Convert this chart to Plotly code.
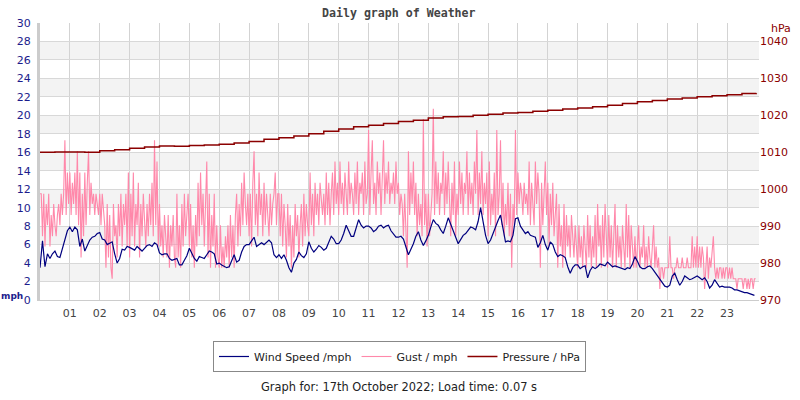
import plotly.graph_objects as go

# ---------------- data ----------------
# wind speed (mph), 5-minute samples starting 00:00 (one row per hour)
wind_mph = [
    3.5, 6.4, 3.6, 5.0, 4.5, 5.0, 5.3, 4.7, 4.6, 5.6, 6.3, 7.5,
    7.9, 7.4, 7.9, 7.6, 5.8, 6.6, 5.3, 6.0, 6.5, 6.8, 6.9, 7.2,
    7.3, 6.6, 6.5, 6.0, 6.2, 6.3, 5.0, 4.0, 4.5, 5.5, 5.4, 5.8,
    5.7, 5.5, 5.4, 5.8, 5.5, 5.3, 5.6, 5.9, 6.0, 5.8, 6.2, 6.0,
    5.1, 4.9, 5.0, 5.0, 4.5, 4.3, 4.4, 4.5, 3.8, 3.8, 4.3, 4.8,
    5.6, 5.0, 4.5, 4.2, 4.7, 4.6, 4.5, 4.9, 5.3, 5.2, 5.0, 3.9,
    4.0, 3.8, 3.6, 3.5, 3.6, 4.3, 4.9, 4.1, 4.3, 5.2, 5.8, 6.0,
    6.0, 6.4, 6.8, 5.8, 6.0, 6.2, 6.0, 6.3, 6.5, 6.2, 4.9, 4.6,
    4.9, 4.5, 4.9, 4.3, 3.5, 3.0, 4.0, 4.4, 5.2, 4.8, 4.6, 5.0,
    6.3, 5.6, 5.2, 5.5, 5.9, 5.7, 5.4, 5.6, 6.2, 6.9, 6.6, 6.1,
    6.1, 6.5, 7.2, 8.1, 7.5, 6.9, 6.9, 7.8, 8.7, 8.1, 7.8, 8.0,
    8.0, 7.8, 7.4, 7.6, 8.0, 8.1, 7.8, 8.0, 8.1, 7.5, 7.2, 6.8,
    6.8, 6.9, 6.6, 5.8, 4.9, 5.5, 6.1, 6.9, 7.4, 6.5, 5.9, 6.4,
    7.0, 7.9, 8.7, 8.3, 8.1, 7.6, 7.2, 8.0, 8.9, 8.2, 7.4, 6.8,
    6.1, 6.5, 7.0, 7.2, 7.5, 7.9, 7.8, 7.6, 8.5, 10.0, 8.5, 7.0,
    6.1, 6.5, 7.2, 8.0, 8.6, 9.2, 7.5, 6.3, 6.4, 6.3, 7.0, 8.8,
    8.9, 8.0, 7.6, 7.2, 7.4, 7.0, 6.9, 6.8, 5.7, 6.2, 7.0, 6.0,
    5.4, 6.3, 6.0, 5.2, 4.7, 4.9, 4.8, 4.6, 3.6, 2.9, 3.5, 3.8,
    3.8, 3.4, 3.6, 3.7, 2.4, 3.2, 3.6, 3.4, 3.6, 3.9, 3.8, 3.7,
    4.1, 3.8, 3.6, 3.7, 3.6, 3.5, 3.4, 3.3, 3.5, 3.4, 3.9, 4.7,
    4.2, 3.6, 3.4, 3.4, 3.6, 3.7, 3.4, 3.0, 2.6, 2.2, 1.8, 1.5,
    1.4, 1.6, 2.6, 2.9, 2.2, 1.6, 2.0, 2.6, 2.4, 2.2, 2.3, 2.5,
    2.6, 2.4, 2.2, 2.4, 2.0, 1.3, 1.6, 2.2, 1.8, 1.4, 1.5, 1.4,
    1.4, 1.4, 1.3, 1.1, 1.1, 1.0, 0.9, 0.8, 0.8, 0.7, 0.6, 0.5,
]
wind_step_min = 5

# gust (mph), 2.5-minute samples starting 00:00 (one row per hour)
gust_mph = [
    11.5, 11.5, 6.9, 11.5, 5.8, 10.4, 8.1, 11.5, 5.8, 9.2, 6.9, 10.4, 8.1, 6.9, 9.2, 10.4, 8.1, 11.5, 9.2, 11.5, 17.3, 9.2, 13.8, 10.4,
    13.8, 9.2, 12.7, 10.4, 13.8, 9.2, 16.1, 8.1, 13.8, 4.6, 11.5, 6.9, 13.8, 8.1, 12.7, 16.1, 9.2, 12.7, 10.4, 11.5, 9.2, 11.5, 10.4, 9.2,
    11.5, 8.1, 11.5, 9.2, 8.1, 3.5, 10.4, 4.6, 9.2, 3.5, 2.3, 10.4, 6.9, 8.1, 4.6, 10.4, 6.9, 11.5, 5.8, 10.4, 8.1, 11.5, 5.8, 13.8,
    4.6, 11.5, 6.9, 13.8, 5.8, 10.4, 8.1, 12.7, 4.6, 10.4, 6.9, 11.5, 8.1, 5.8, 10.4, 6.9, 11.5, 8.1, 12.7, 6.9, 17.3, 8.1, 15.0, 5.8,
    10.4, 5.8, 8.1, 4.6, 9.2, 6.9, 4.6, 9.2, 3.5, 8.1, 5.8, 9.2, 4.6, 3.5, 11.5, 4.6, 8.1, 3.5, 10.4, 5.8, 11.5, 6.9, 9.2, 11.5,
    5.8, 10.4, 4.6, 8.1, 3.5, 9.2, 5.8, 12.7, 6.9, 13.8, 8.1, 11.5, 5.8, 10.4, 15.0, 4.6, 11.5, 3.5, 9.2, 5.8, 11.5, 3.5, 8.1, 4.6,
    3.5, 8.1, 3.5, 5.8, 3.5, 6.9, 4.6, 8.1, 3.5, 9.2, 4.6, 8.1, 3.5, 9.2, 11.5, 5.8, 10.4, 6.9, 12.7, 8.1, 13.8, 10.4, 8.1, 11.5,
    6.9, 11.5, 5.8, 12.7, 16.1, 8.1, 11.5, 6.9, 13.8, 9.2, 11.5, 6.9, 12.7, 8.1, 11.5, 9.2, 6.9, 11.5, 8.1, 10.4, 11.5, 13.8, 8.1, 11.5,
    11.5, 6.9, 11.5, 5.8, 10.4, 8.1, 4.6, 10.4, 5.8, 9.2, 3.5, 8.1, 4.6, 10.4, 6.9, 9.2, 4.6, 8.1, 10.4, 5.8, 11.5, 6.9, 10.4, 8.1,
    6.9, 13.8, 8.1, 11.5, 6.9, 12.7, 9.2, 11.5, 8.1, 12.7, 10.4, 9.2, 11.5, 8.1, 13.8, 9.2, 12.7, 8.1, 11.5, 13.8, 9.2, 15.0, 10.4, 12.7,
    9.2, 15.0, 10.4, 12.7, 9.2, 13.8, 11.5, 9.2, 15.0, 10.4, 12.7, 11.5, 9.2, 13.8, 10.4, 15.0, 9.2, 12.7, 11.5, 13.8, 9.2, 15.0, 10.4, 11.5,
    18.4, 9.2, 13.8, 17.3, 10.4, 12.7, 9.2, 15.0, 11.5, 13.8, 9.2, 12.7, 17.3, 10.4, 13.8, 11.5, 15.0, 10.4, 12.7, 11.5, 13.8, 10.4, 15.0, 11.5,
    12.7, 9.2, 11.5, 10.4, 6.9, 11.5, 8.1, 3.5, 16.1, 9.2, 13.8, 10.4, 15.0, 9.2, 12.7, 6.9, 11.5, 8.1, 10.4, 6.9, 19.6, 8.1, 11.5, 5.8,
    11.5, 6.9, 9.2, 11.5, 20.7, 9.2, 15.0, 10.4, 13.8, 9.2, 12.7, 11.5, 16.1, 9.2, 13.8, 10.4, 15.0, 11.5, 6.9, 12.7, 9.2, 15.0, 6.9, 11.5,
    9.2, 15.0, 10.4, 13.8, 9.2, 12.7, 11.5, 16.1, 9.2, 13.8, 10.4, 12.7, 9.2, 15.0, 11.5, 18.4, 9.2, 13.8, 10.4, 16.1, 9.2, 12.7, 10.4, 13.8,
    6.9, 15.0, 8.1, 11.5, 9.2, 13.8, 6.9, 18.4, 9.2, 11.5, 17.3, 8.1, 12.7, 6.9, 10.4, 8.1, 12.7, 6.9, 11.5, 3.5, 10.4, 8.1, 18.4, 9.2,
    13.8, 10.4, 12.7, 11.5, 9.2, 12.7, 10.4, 11.5, 9.2, 15.0, 8.1, 12.7, 10.4, 8.1, 15.0, 10.4, 13.8, 11.5, 3.5, 12.7, 8.1, 11.5, 15.0, 9.2,
    12.7, 5.8, 11.5, 8.1, 12.7, 6.9, 9.2, 11.5, 3.5, 10.4, 5.8, 8.1, 3.5, 10.4, 4.6, 9.2, 5.8, 8.1, 4.6, 9.2, 6.9, 4.6, 8.1, 5.8,
    3.5, 8.1, 4.6, 6.9, 3.5, 8.1, 5.8, 3.5, 9.2, 4.6, 8.1, 3.5, 6.9, 4.6, 9.2, 3.5, 10.4, 5.8, 8.1, 3.5, 9.2, 4.6, 10.4, 5.8,
    3.5, 9.2, 4.6, 8.1, 3.5, 6.9, 10.4, 3.5, 8.1, 4.6, 6.9, 3.5, 8.1, 5.8, 3.5, 10.4, 4.6, 9.2, 3.5, 8.1, 5.8, 3.5, 6.9, 3.5,
    5.8, 8.1, 3.5, 5.8, 4.6, 8.1, 3.5, 5.8, 3.5, 6.9, 4.6, 3.5, 5.8, 8.1, 3.5, 5.8, 3.5, 4.6, 1.2, 3.5, 3.5, 2.3, 3.5, 3.5,
    3.5, 3.5, 6.9, 3.5, 3.5, 2.3, 3.5, 3.5, 4.6, 3.5, 3.5, 3.5, 4.6, 3.5, 3.5, 3.5, 4.6, 3.5, 3.5, 3.5, 6.9, 3.5, 5.8, 3.5,
    6.9, 3.5, 5.8, 3.5, 5.8, 4.6, 1.2, 3.5, 5.8, 2.3, 4.6, 3.5, 5.8, 6.9, 3.5, 2.3, 3.5, 2.3, 3.5, 3.5, 2.3, 3.5, 2.3, 3.5,
    3.5, 2.3, 3.5, 2.3, 3.5, 2.3, 2.3, 2.3, 1.2, 2.3, 2.3, 2.3, 2.3, 1.2, 2.3, 2.3, 1.2, 2.3, 1.2, 2.3, 2.3, 1.2, 2.3, 2.3,
]
gust_step_min = 2.5

# pressure (hPa), 30-minute samples starting 00:00
pressure_hpa = [
    1010.0, 1010.1, 1010.1, 1010.0, 1010.4, 1010.7, 1011.1, 1011.4,
    1011.7, 1011.6, 1011.8, 1012.0, 1012.2, 1012.5, 1012.9, 1013.5,
    1013.9, 1014.4, 1015.0, 1015.7, 1016.3, 1016.9, 1017.3, 1017.8,
    1018.3, 1018.7, 1019.3, 1019.6, 1019.7, 1020.0, 1020.3, 1020.6,
    1020.8, 1021.1, 1021.4, 1021.7, 1022.0, 1022.3, 1022.7, 1023.2,
    1023.7, 1024.0, 1024.4, 1024.7, 1025.0, 1025.3, 1025.6, 1025.9,
    1026.0,
]
pressure_step_min = 30

hour_ticks = list(range(1, 24))
hour_labels = ["%02d" % h for h in hour_ticks]
mph_ticks = list(range(0, 31, 2))
hpa_ticks = list(range(970, 1041, 10))

title_text = "Daily graph of Weather"
footer_text = "Graph for: 17th October 2022; Load time: 0.07 s"

# ---------------- figure ----------------
def hours(n, step):
    return [i * step / 60.0 for i in range(n)]

C_WIND = "#00007f"
C_GUST = "#ff88aa"
C_PRES = "#8b0000"
C_LEFT = "#1c1c8c"

pres_x = hours(len(pressure_hpa), pressure_step_min)
pres_x[-1] = 23.98

fig = go.Figure()
fig.add_trace(go.Scatter(x=hours(len(gust_mph), gust_step_min), y=gust_mph,
                         mode="lines", name="Gust / mph", legendrank=2,
                         line=dict(color=C_GUST, width=1.1)))
fig.add_trace(go.Scatter(x=hours(len(wind_mph), wind_step_min), y=wind_mph,
                         mode="lines", name="Wind Speed /mph", legendrank=1,
                         line=dict(color=C_WIND, width=1.2)))
fig.add_trace(go.Scatter(x=pres_x, y=pressure_hpa, yaxis="y2",
                         mode="lines", name="Pressure / hPa", legendrank=3,
                         line=dict(color=C_PRES, width=1.5, shape="hv")))

# alternating background bands
shapes = []
for lo in mph_ticks[1:-1:2]:
    shapes.append(dict(type="rect", xref="paper", yref="y", x0=0, x1=1,
                       y0=lo, y1=lo + 2, fillcolor="#f3f3f3",
                       line=dict(width=0), layer="below"))

fig.update_layout(
    width=800, height=400,
    margin=dict(l=40, r=38, t=23, b=100),
    paper_bgcolor="white", plot_bgcolor="white",
    font=dict(family="DejaVu Sans", size=11, color="#444"),
    shapes=shapes,
    showlegend=True,
    legend=dict(orientation="h", x=0.5, xanchor="center", y=-0.148, yanchor="top",
                bordercolor="#888", borderwidth=1, bgcolor="white",
                font=dict(family="DejaVu Sans", size=11, color="#222"),
                itemwidth=30, traceorder="normal"),
    xaxis=dict(range=[0, 24.07], tickmode="array", tickvals=hour_ticks,
               ticktext=hour_labels, showgrid=True, gridcolor="#d3d3d3",
               gridwidth=1, zeroline=False, showline=True, linecolor="#cccccc",
               linewidth=1, ticks="", tickfont=dict(size=11, color="#444"),
               ticklabelstandoff=3, fixedrange=True),
    yaxis=dict(range=[0, 30], tickvals=mph_ticks, showgrid=True,
               gridcolor="#d8d8d8", zeroline=False, showline=True,
               linecolor="#cccccc", linewidth=3, ticks="",
               tickfont=dict(size=11, color=C_LEFT), ticklabelstandoff=4,
               fixedrange=True),
    yaxis2=dict(range=[970, 1045], tickvals=hpa_ticks, overlaying="y",
                side="right", showgrid=False, zeroline=False, ticks="",
                tickfont=dict(size=11, color=C_PRES), fixedrange=True),
    annotations=[
        dict(text="<b>" + title_text + "</b>", xref="paper", yref="paper",
             x=(400 - 40) / 722, y=(300 - 13) / 277, xanchor="center",
             yanchor="middle", showarrow=False,
             font=dict(family="DejaVu Sans Mono", size=11.6, color="#444")),
        dict(text="<b>mph</b>", xref="paper", yref="paper",
             x=(12 - 40) / 722, y=(300 - 296) / 277, xanchor="center",
             yanchor="middle", showarrow=False,
             font=dict(family="DejaVu Sans", size=9, color=C_LEFT)),
        dict(text="hPa", xref="paper", yref="paper",
             x=(784 - 40) / 722, y=(300 - 29) / 277, xanchor="center",
             yanchor="middle", showarrow=False,
             font=dict(family="DejaVu Sans", size=11, color=C_PRES)),
        dict(text=footer_text, xref="paper", yref="paper",
             x=(400 - 40) / 722, y=(300 - 387) / 277, xanchor="center",
             yanchor="middle", showarrow=False,
             font=dict(family="DejaVu Sans", size=11.4, color="#222")),
    ],
)

fig.write_html("out.html")
